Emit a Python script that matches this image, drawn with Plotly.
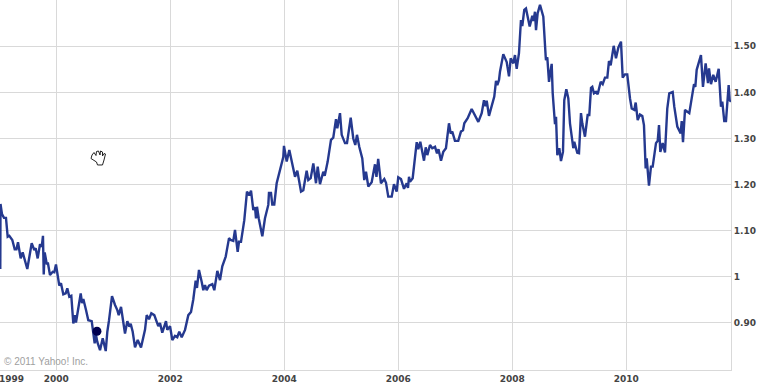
import plotly.graph_objects as go

years = [1999.017,1999.021,1999.047,1999.082,1999.117,1999.147,1999.175,1999.228,1999.270,1999.301,1999.328,1999.375,1999.410,1999.451,1999.491,1999.568,1999.614,1999.638,1999.673,1999.714,1999.744,1999.766,1999.779,1999.796,1999.831,1999.854,1999.889,1999.937,1999.965,1999.994,
2000.017,2000.052,2000.082,2000.123,2000.165,2000.193,2000.228,2000.263,2000.298,2000.323,2000.345,2000.428,2000.451,2000.474,2000.521,2000.561,2000.621,2000.673,2000.691,2000.719,2000.767,2000.814,2000.867,2000.895,2000.925,2000.977,
2001.030,2001.070,2001.095,2001.135,2001.170,2001.205,2001.246,2001.281,2001.305,2001.340,2001.381,2001.428,2001.486,2001.556,2001.586,2001.626,2001.667,2001.719,2001.789,2001.819,2001.859,2001.924,2001.947,2001.995,
2002.035,2002.082,2002.122,2002.157,2002.200,2002.258,2002.316,2002.363,2002.403,2002.445,2002.468,2002.503,2002.551,2002.579,2002.609,2002.638,2002.679,2002.737,2002.772,2002.825,2002.872,2002.912,2002.972,
2003.030,2003.059,2003.105,2003.135,2003.182,2003.205,2003.240,2003.298,2003.345,2003.386,2003.416,2003.456,2003.486,2003.503,2003.521,2003.551,2003.614,2003.661,2003.719,2003.731,2003.766,2003.789,2003.824,2003.866,2003.924,2003.982,2003.994,
2004.042,2004.088,2004.130,2004.188,2004.228,2004.293,2004.333,2004.392,2004.421,2004.463,2004.509,2004.556,2004.586,2004.626,2004.684,2004.709,2004.761,2004.819,2004.859,2004.907,2004.930,2004.977,
2005.007,2005.065,2005.100,2005.165,2005.210,2005.245,2005.275,2005.315,2005.368,2005.403,2005.433,2005.474,2005.533,2005.591,2005.617,2005.647,2005.696,2005.754,2005.784,2005.824,2005.884,2005.924,2005.971,2005.999,
2006.047,2006.100,2006.147,2006.170,2006.188,2006.205,2006.252,2006.323,2006.351,2006.386,2006.451,2006.481,2006.509,2006.556,2006.596,2006.644,2006.679,2006.705,2006.749,2006.789,2006.836,2006.889,2006.919,2006.947,2006.994,
2007.052,2007.099,2007.135,2007.158,2007.217,2007.287,2007.404,2007.463,2007.503,2007.530,2007.551,2007.591,2007.638,2007.684,2007.714,2007.737,2007.767,2007.784,2007.842,2007.902,2007.942,2007.972,
2008.018,2008.047,2008.077,2008.117,2008.152,2008.175,2008.210,2008.240,2008.305,2008.351,2008.372,2008.398,2008.416,2008.445,2008.486,2008.544,2008.586,2008.591,2008.614,2008.644,2008.661,2008.691,2008.709,2008.737,2008.749,2008.767,2008.790,2008.825,2008.854,2008.889,2008.912,2008.948,2008.983,
2009.012,2009.070,2009.087,2009.140,2009.170,2009.205,2009.228,2009.275,2009.322,2009.351,2009.381,2009.403,2009.433,2009.468,2009.498,2009.551,2009.586,2009.626,2009.667,2009.696,2009.726,2009.779,2009.819,2009.860,2009.907,2009.937,2009.977,
2010.017,2010.065,2010.095,2010.140,2010.165,2010.200,2010.240,2010.281,2010.310,2010.340,2010.358,2010.398,2010.433,2010.463,2010.521,2010.551,2010.574,2010.597,2010.638,2010.679,2010.719,2010.754,2010.814,2010.842,2010.895,2010.954,2010.972,2010.995,
2011.030,2011.105,2011.158,2011.188,2011.211,2011.235,2011.310,2011.345,2011.392,2011.433,2011.451,2011.486,2011.526,2011.568,2011.621,2011.661,2011.684,2011.719,2011.749,2011.772,2011.796,2011.814,2011.837]

rate = [1.017,1.158,1.136,1.128,1.128,1.087,1.089,1.080,1.060,1.060,1.075,1.040,1.053,1.036,1.017,1.073,1.058,1.062,1.040,1.071,1.065,1.089,1.005,1.053,1.029,1.029,1.004,1.011,1.010,1.027,
1.011,0.981,0.986,0.962,0.964,0.975,0.957,0.959,0.899,0.917,0.901,0.964,0.943,0.952,0.928,0.906,0.904,0.856,0.878,0.859,0.841,0.867,0.839,0.881,0.906,0.958,
0.939,0.928,0.917,0.935,0.906,0.877,0.904,0.892,0.898,0.881,0.847,0.863,0.847,0.885,0.917,0.908,0.921,0.917,0.893,0.900,0.879,0.904,0.885,0.893,
0.863,0.872,0.869,0.881,0.869,0.885,0.917,0.924,0.951,0.992,0.976,1.015,0.989,0.971,0.982,0.971,0.981,0.984,0.971,1.013,0.993,1.023,1.044,
1.084,1.080,1.078,1.102,1.054,1.076,1.076,1.123,1.185,1.177,1.187,1.145,1.151,1.127,1.152,1.127,1.088,1.127,1.156,1.182,1.182,1.157,1.157,1.203,1.235,1.260,1.284,
1.250,1.275,1.250,1.217,1.230,1.185,1.188,1.230,1.210,1.214,1.246,1.203,1.239,1.201,1.228,1.219,1.250,1.297,1.302,1.342,1.322,1.355,
1.308,1.290,1.290,1.345,1.300,1.286,1.308,1.282,1.257,1.210,1.228,1.196,1.205,1.244,1.217,1.256,1.203,1.212,1.204,1.174,1.174,1.201,1.185,1.216,
1.212,1.191,1.203,1.193,1.217,1.206,1.214,1.292,1.277,1.293,1.252,1.281,1.264,1.286,1.279,1.282,1.268,1.277,1.252,1.271,1.279,1.333,1.311,1.315,1.295,
1.295,1.315,1.318,1.333,1.344,1.364,1.336,1.355,1.383,1.370,1.382,1.349,1.373,1.391,1.425,1.416,1.427,1.445,1.483,1.466,1.435,1.474,
1.463,1.481,1.451,1.485,1.557,1.544,1.579,1.582,1.543,1.566,1.555,1.575,1.535,1.572,1.590,1.564,1.477,1.470,1.476,1.423,1.438,1.462,1.398,1.351,1.331,1.347,1.264,1.279,1.251,1.271,1.383,1.407,1.387,
1.333,1.279,1.293,1.269,1.268,1.355,1.333,1.304,1.351,1.351,1.410,1.412,1.398,1.401,1.396,1.423,1.418,1.432,1.432,1.468,1.459,1.501,1.474,1.497,1.510,1.432,1.439,
1.439,1.387,1.365,1.362,1.378,1.340,1.352,1.349,1.329,1.235,1.257,1.198,1.239,1.239,1.290,1.295,1.329,1.271,1.290,1.270,1.365,1.398,1.401,1.369,1.326,1.311,1.338,1.292,
1.362,1.355,1.394,1.418,1.412,1.449,1.481,1.412,1.463,1.420,1.452,1.418,1.438,1.423,1.451,1.369,1.380,1.338,1.338,1.387,1.416,1.383,1.380]

marker_year = [2000.713]
marker_rate = [0.882]

x_tick_years = [2000, 2002, 2004, 2006, 2008, 2010]
x_tick_text = ["2000", "2002", "2004", "2006", "2008", "2010"]
y_tick_vals = [0.9, 1.0, 1.1, 1.2, 1.3, 1.4, 1.5]
y_tick_text = ["0.90", "1", "1.10", "1.20", "1.30", "1.40", "1.50"]

W, H = 773, 385
L, R, T, B = 0, 731, 0, 370
GRID = "#d9d9d9"
FONT = "DejaVu Sans, Verdana, sans-serif"
TICK_FONT = dict(family=FONT, size=9, color="#444444")

fig = go.Figure()
fig.add_trace(go.Scatter(x=years, y=rate, mode="lines", hoverinfo="skip",
                         line=dict(color="#25398f", width=2.4, shape="linear")))
fig.add_trace(go.Scatter(x=marker_year, y=marker_rate, mode="markers", hoverinfo="skip",
                         marker=dict(color="#000050", size=9)))

def px(x): return x / R
def py(y): return 1 - y / B

# hand cursor outline
hand = [(92,155),(94,152.5),(96,155.5),(96.5,151.5),(98.5,151),(100,155),(100.5,151),(102.5,152),(102.5,156),
        (104,153.5),(105.5,154),(104,160),(102.5,165),(97.5,165),(96.5,162),(91,158.5),(92,155)]
path = "M " + " L ".join(f"{px(a):.4f},{py(b):.4f}" for a, b in hand) + " Z"
fig.add_shape(type="path", path=path, xref="paper", yref="paper",
              line=dict(color="#222222", width=1), fillcolor="#ffffff")

fig.add_annotation(text="© 2011 Yahoo! Inc.", xref="paper", yref="paper", x=px(1.5), y=py(369),
                   xanchor="left", yanchor="bottom", showarrow=False,
                   font=dict(family="Liberation Sans, Arial, sans-serif", size=10, color="#a0a0a0"))
fig.add_annotation(text="<b>1999</b>", xref="paper", yref="paper", x=0, y=py(372.5),
                   xanchor="left", yanchor="top", showarrow=False, xshift=-3,
                   yshift=1, font=TICK_FONT)

fig.update_layout(
    width=W, height=H, showlegend=False,
    margin=dict(l=L, r=W - R, t=T, b=H - B),
    paper_bgcolor="white", plot_bgcolor="white",
    xaxis=dict(range=[1999.012, 2011.837], tickmode="array", tickvals=x_tick_years,
               ticktext=[f"<b>{t}</b>" for t in x_tick_text], ticks="", showgrid=True,
               gridcolor=GRID, gridwidth=1, zeroline=False, showline=True, linecolor=GRID,
               linewidth=1, mirror=True, tickfont=TICK_FONT),
    yaxis=dict(range=[0.798, 1.6004], side="right", tickmode="array", tickvals=y_tick_vals,
               ticktext=[f"<b>{t}</b>" for t in y_tick_text], ticks="", showgrid=True,
               gridcolor=GRID, gridwidth=1, zeroline=False, showline=True, linecolor=GRID,
               linewidth=1, tickfont=TICK_FONT),
)
fig.write_html("out.html", config={"displayModeBar": False},
               post_script="document.body.style.margin='0';document.documentElement.style.overflow='hidden';")
